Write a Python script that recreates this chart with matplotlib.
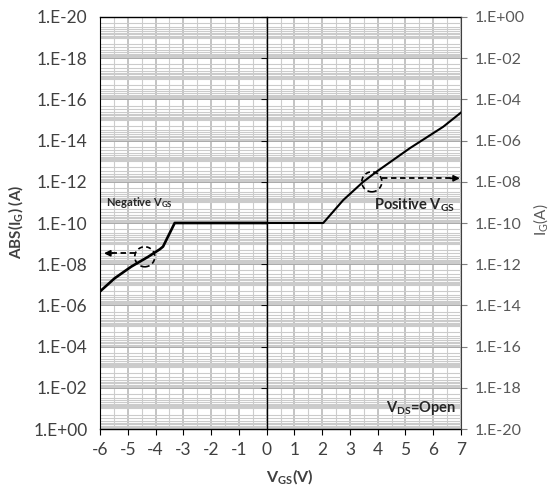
import numpy as np
import matplotlib
matplotlib.use('Agg')
import matplotlib.pyplot as plt
from matplotlib.patches import Ellipse
from matplotlib.ticker import LogLocator, MultipleLocator, NullFormatter, NullLocator

plt.rcParams['font.family'] = ['Lato', 'DejaVu Sans']
plt.rcParams['mathtext.fontset'] = 'custom'
plt.rcParams['mathtext.rm'] = 'Lato'
plt.rcParams['mathtext.bf'] = 'Lato:bold'
plt.rcParams['mathtext.it'] = 'Lato:italic'
plt.rcParams['axes.unicode_minus'] = False

# negative VGS branch, read against the left (inverted) axis: ABS(IG)
vgs_neg = [-6.0, -5.47, -4.87, -4.27, -3.85, -3.73, -3.31, 0.0]
abs_ig_neg = [2.1e-7, 4.8e-8, 1.3e-8, 4.4e-9, 1.9e-9, 1.4e-9, 1.0e-10, 1.0e-10]

# positive VGS branch, read against the right axis: IG
vgs_pos = [0.0, 2.04, 2.76, 3.48, 3.96, 5.16, 6.36, 7.0]
ig_pos = [1.0e-10, 1.0e-10, 1.3e-9, 1.0e-8, 3.1e-8, 4.3e-7, 4.7e-6, 2.3e-5]

x_ticks = [-6, -5, -4, -3, -2, -1, 0, 1, 2, 3, 4, 5, 6, 7]
y_ticks = [1e-20, 1e-18, 1e-16, 1e-14, 1e-12, 1e-10, 1e-08, 1e-06, 1e-04, 1e-02, 1e+00]
y_labels = ['1.E-20', '1.E-18', '1.E-16', '1.E-14', '1.E-12', '1.E-10',
            '1.E-08', '1.E-06', '1.E-04', '1.E-02', '1.E+00']

dark = '#404040'
grey = '#595959'

fig = plt.figure(figsize=(5.53, 4.86), dpi=100)
ax = fig.add_axes([100 / 553, 1 - 429 / 486, 361 / 553, 412 / 486])

# main axis: inverted log, spine crossing at x = 0
ax.set_xlim(-6, 7)
ax.set_yscale('log')
ax.set_ylim(1, 1e-20)
ax.set_xticks(x_ticks)
ax.xaxis.set_minor_locator(MultipleLocator(0.5))
ax.set_yticks(y_ticks)
ax.yaxis.set_minor_locator(LogLocator(base=10, subs=np.arange(1, 10), numticks=200))
ax.yaxis.set_minor_formatter(NullFormatter())
ax.tick_params(axis='y', which='major', direction='out', length=4, width=0.8,
               color='black', labelleft=False)
ax.tick_params(axis='y', which='minor', length=0)
ax.tick_params(axis='x', which='major', direction='out', length=4, width=0.8,
               color='black', labelsize=12.5, labelcolor=dark, pad=5)
ax.tick_params(axis='x', which='minor', length=0)
ax.spines['left'].set_position(('data', 0))
ax.spines['right'].set_visible(False)
for s in ['left', 'top', 'bottom']:
    ax.spines[s].set_color('black')
    ax.spines[s].set_linewidth(1.0)

ax.grid(True, axis='x', which='major', color='#b4b4b4', lw=1.1)
ax.grid(True, axis='x', which='minor', color='#cdcdcd', lw=0.8)
ax.grid(True, axis='y', which='major', color='#a8a8a8', lw=1.4)
ax.grid(True, axis='y', which='minor', color='#cbcbcb', lw=0.8)
ax.set_axisbelow(True)

# left labels on the plot border
ax_l = ax.twinx()
ax_l.set_yscale('log')
ax_l.set_ylim(1, 1e-20)
ax_l.yaxis.tick_left()
ax_l.yaxis.set_label_position('left')
ax_l.set_yticks(y_ticks)
ax_l.set_yticklabels(y_labels)
ax_l.yaxis.set_minor_locator(NullLocator())
ax_l.tick_params(axis='y', which='both', length=0, labelsize=12.5, labelcolor=dark, pad=9)
for s in ['right', 'top', 'bottom']:
    ax_l.spines[s].set_visible(False)
ax_l.spines['left'].set_color('black')

# right axis: normal log
ax_r = ax.twinx()
ax_r.set_yscale('log')
ax_r.set_ylim(1e-20, 1)
ax_r.set_yticks(y_ticks)
ax_r.set_yticklabels(y_labels)
ax_r.yaxis.set_minor_locator(NullLocator())
ax_r.tick_params(axis='y', which='major', direction='out', length=4, width=0.8,
                 color='#7f7f7f', labelsize=11.5, labelcolor=grey, pad=6)
for s in ['left', 'top', 'bottom']:
    ax_r.spines[s].set_visible(False)
ax_r.spines['right'].set_color('#404040')

ax.plot(vgs_neg, abs_ig_neg, color='black', lw=1.9, solid_joinstyle='round')
ax_r.plot(vgs_pos, ig_pos, color='black', lw=1.5, solid_joinstyle='round')

# axis titles
fig.text(16 / 553, 1 - 222 / 486, r'ABS(I$_\mathbf{G}$) (A)', rotation=90,
         fontsize=11, fontweight='bold', color=dark, ha='center', va='center')
fig.text(541 / 553, 1 - 220 / 486, r'I$_\mathrm{G}$(A)', rotation=90,
         fontsize=11, color=grey, ha='center', va='center')
fig.text(290 / 553, 1 - 477 / 486, r'V$_\mathbf{GS}$(V)', fontsize=11.5,
         fontweight='bold', color=dark, ha='center', va='center')

# dashed circles and arrows
for (cx, cy) in [(0.124, 0.418), (0.753, 0.600)]:
    ax.add_patch(Ellipse((cx, cy), 20 / 361, 20 / 412, transform=ax.transAxes,
                         fill=False, ec='black', lw=1.2, ls=(0, (3, 2)), zorder=5))

ax.plot([0.097, 0.03], [0.4265, 0.4265], transform=ax.transAxes, color='black',
        lw=1.3, ls=(0, (3, 2)), zorder=5)
ax.annotate('', xy=(0.011, 0.4265), xytext=(0.035, 0.4265), xycoords='axes fraction',
            arrowprops=dict(arrowstyle='-|>', color='black', lw=1.2,
                            mutation_scale=9, shrinkA=0, shrinkB=0))
ax.plot([0.781, 0.975], [0.6085, 0.6085], transform=ax.transAxes, color='black',
        lw=1.3, ls=(0, (3, 2)), zorder=5)
ax.annotate('', xy=(0.997, 0.6085), xytext=(0.97, 0.6085), xycoords='axes fraction',
            arrowprops=dict(arrowstyle='-|>', color='black', lw=1.2,
                            mutation_scale=9, shrinkA=0, shrinkB=0))

ax.text(0.018, 0.55, r'Negative V$_\mathbf{GS}$', transform=ax.transAxes,
        fontsize=8, fontweight='bold', color='#262626', va='center', ha='left')
ax.text(0.76, 0.542, r'Positive V$_\mathbf{GS}$', transform=ax.transAxes,
        fontsize=10.5, fontweight='bold', color='#262626', va='center', ha='left')
ax.text(0.985, 0.052, r'V$_\mathbf{DS}$=Open', transform=ax.transAxes,
        fontsize=10.5, fontweight='bold', color='#262626', va='center', ha='right')

fig.savefig('out.png', dpi=100, facecolor='white')
